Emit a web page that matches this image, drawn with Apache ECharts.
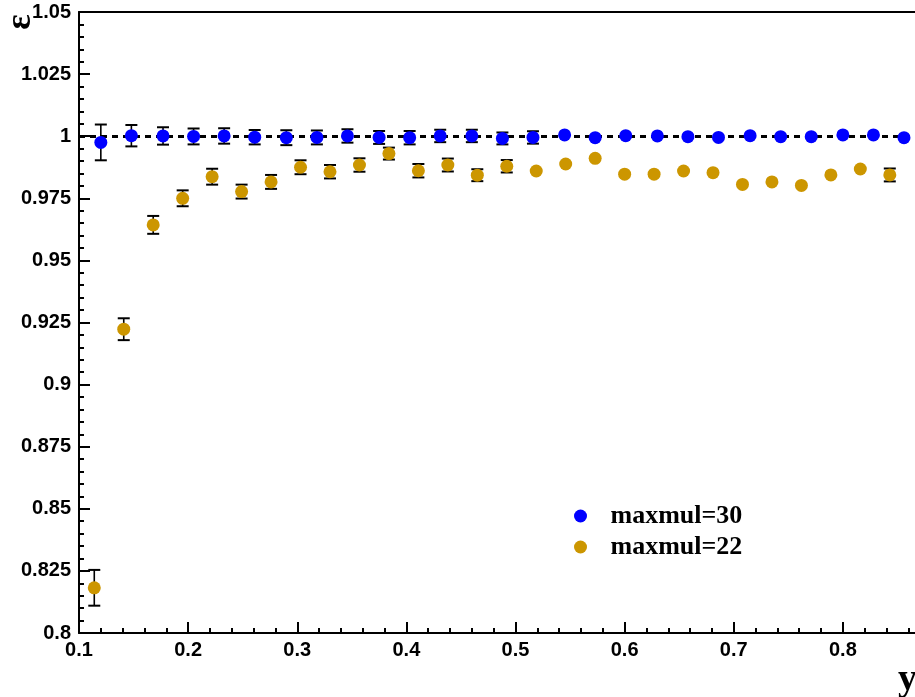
<!DOCTYPE html>
<html lang="en">
<head>
    <meta charset="UTF-8">
    <title>efficiency vs y</title>
    <script src="https://cdn.jsdelivr.net/npm/echarts@6/dist/echarts.min.js"></script>
    <style>
        html, body { margin: 0; padding: 0; background: #fff; }
    </style>
</head>
<body>
<div id="main" style="width: 915px;height: 697px;"></div>
<script>
    // maxmul=30 (blue)
    let blueX = [0.120, 0.148, 0.177, 0.205, 0.233, 0.261, 0.290, 0.318, 0.346, 0.375, 0.403, 0.431, 0.460, 0.488,
        0.516, 0.545, 0.573, 0.601, 0.630, 0.658, 0.686, 0.715, 0.743, 0.771, 0.800, 0.828, 0.856];
    let blueY = [0.9975, 1.0002, 1.0001, 0.9999, 1.0001, 0.9996, 0.9994, 0.9995, 1.0001, 0.9995, 0.9994, 1.0001, 1.0001, 0.9991,
        0.9995, 1.0005, 0.9994, 1.0002, 1.0001, 0.9998, 0.9995, 1.0002, 0.9998, 0.9998, 1.0005, 1.0005, 0.9994];
    let blueErr = [0.0072, 0.0043, 0.0035, 0.0032, 0.0031, 0.0029, 0.0030, 0.0028, 0.0027, 0.0026, 0.0027, 0.0025, 0.0025, 0.0024,
        0.0025, 0, 0, 0, 0, 0, 0, 0, 0, 0, 0, 0, 0];

    // maxmul=22 (orange)
    let orangeX = [0.114, 0.141, 0.168, 0.195, 0.222, 0.249, 0.276, 0.303, 0.330, 0.357, 0.384, 0.411, 0.438, 0.465,
        0.492, 0.519, 0.546, 0.573, 0.600, 0.627, 0.654, 0.681, 0.708, 0.735, 0.762, 0.789, 0.816, 0.843];
    let orangeY = [0.8182, 0.9223, 0.9643, 0.9750, 0.9837, 0.9777, 0.9816, 0.9875, 0.9857, 0.9884, 0.9930, 0.9861, 0.9884, 0.9843,
        0.9879, 0.9860, 0.9888, 0.9911, 0.9847, 0.9847, 0.9860, 0.9853, 0.9806, 0.9816, 0.9802, 0.9844, 0.9868, 0.9844];
    let orangeErr = [0.0072, 0.0044, 0.0036, 0.0032, 0.0032, 0.0028, 0.0028, 0.0028, 0.0027, 0.0027, 0.0024, 0.0027, 0.0026, 0.0024,
        0.0025, 0, 0, 0, 0, 0, 0, 0, 0, 0, 0, 0, 0, 0.0026];

    let seriesNames = ['maxmul=30', 'maxmul=22'];
    let colors = ['#0000ff', '#cc9600'];

    function points(xs, ys, es) {
        return xs.map(function(x, i) { return [x, ys[i], es[i]]; });
    }

    // 误差棒
    function renderErr(params, api) {
        let x = api.value(0), y = api.value(1), e = api.value(2);
        if (!e) return;
        let top = api.coord([x, y + e]);
        let bot = api.coord([x, y - e]);
        let st = { stroke: '#000', lineWidth: 1.6 };
        return {
            type: 'group',
            children: [
                { type: 'line', shape: { x1: top[0], y1: top[1], x2: bot[0], y2: bot[1] }, style: st },
                { type: 'line', shape: { x1: top[0] - 6, y1: top[1], x2: top[0] + 6, y2: top[1] }, style: { stroke: '#000', lineWidth: 2 } },
                { type: 'line', shape: { x1: bot[0] - 6, y1: bot[1], x2: bot[0] + 6, y2: bot[1] }, style: { stroke: '#000', lineWidth: 2 } }
            ]
        };
    }

    let labelStyle = { color: '#000', fontFamily: 'Liberation Sans', fontWeight: 'bold', fontSize: 20 };

    let myChart = echarts.init(document.getElementById('main'));
    let option = {
        animation: false,
        backgroundColor: '#fff',
        // 画面右边框被裁掉，所以 x 轴画到 0.9
        grid: { left: 79, top: 12, right: -37, bottom: 64, outerBoundsMode: 'none', containLabel: false },
        legend: {
            orient: 'vertical',
            left: 569,
            top: 498,
            itemWidth: 50,
            itemHeight: 13,
            itemGap: 5,
            icon: 'circle',
            data: seriesNames,
            textStyle: { color: '#000', fontFamily: 'Liberation Serif', fontWeight: 'bold', fontSize: 26, lineHeight: 26 }
        },
        xAxis: [{
            type: 'value',
            min: 0.1,
            max: 0.9,
            interval: 0.1,
            axisLine: { onZero: false, lineStyle: { color: '#000', width: 2 } },
            axisTick: { inside: true, length: 11, lineStyle: { color: '#000', width: 2 } },
            minorTick: { show: true, splitNumber: 5, length: 5, lineStyle: { color: '#000', width: 2 } },
            axisLabel: Object.assign({ margin: 7 }, labelStyle),
            splitLine: { show: false }
        }, {
            type: 'value',
            position: 'top',
            min: 0.1,
            max: 0.9,
            axisLine: { onZero: false, lineStyle: { color: '#000', width: 2 } },
            axisTick: { show: false },
            axisLabel: { show: false },
            splitLine: { show: false }
        }],
        yAxis: {
            type: 'value',
            min: 0.8,
            max: 1.05,
            interval: 0.025,
            axisLine: { show: true, onZero: false, lineStyle: { color: '#000', width: 2 } },
            axisTick: { show: true, inside: true, length: 11, lineStyle: { color: '#000', width: 2 } },
            minorTick: { show: true, splitNumber: 5, length: 5, lineStyle: { color: '#000', width: 2 } },
            axisLabel: Object.assign({ margin: 8 }, labelStyle),
            splitLine: { show: false }
        },
        graphic: [
            {
                type: 'text', x: 21, y: 22, rotation: Math.PI / 2,
                style: { text: 'ε', font: 'bold 36px "Liberation Serif"', fill: '#000', align: 'center', verticalAlign: 'middle' }
            },
            {
                type: 'text', right: -2, bottom: -2,
                style: { text: 'y', font: 'bold 38px "Liberation Serif"', fill: '#000' }
            }
        ],
        series: [
            {
                type: 'custom',
                renderItem: renderErr,
                data: points(orangeX, orangeY, orangeErr),
                z: 1, silent: true
            },
            {
                type: 'custom',
                renderItem: renderErr,
                data: points(blueX, blueY, blueErr),
                z: 1, silent: true
            },
            {
                name: seriesNames[1],
                type: 'scatter',
                symbolSize: 13,
                itemStyle: { color: colors[1], opacity: 1 },
                data: points(orangeX, orangeY, orangeErr),
                z: 3
            },
            {
                name: seriesNames[0],
                type: 'scatter',
                symbolSize: 13,
                itemStyle: { color: colors[0], opacity: 1 },
                data: points(blueX, blueY, blueErr),
                z: 4,
                markLine: {
                    silent: true,
                    symbol: 'none',
                    label: { show: false },
                    lineStyle: { color: '#000', width: 3, type: [6, 5] },
                    data: [{ yAxis: 1 }],
                    z: 2
                }
            }
        ]
    };

    myChart.setOption(option);
</script>
</body>
</html>
